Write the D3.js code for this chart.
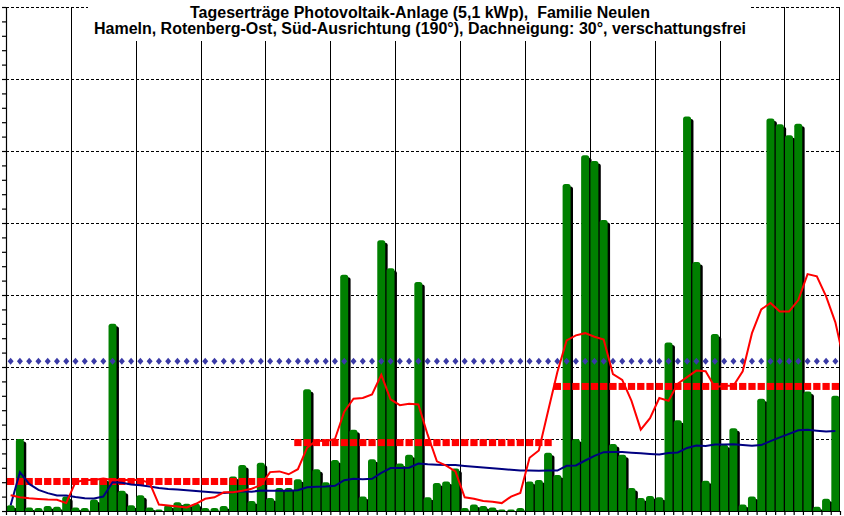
<!DOCTYPE html>
<meta charset="utf-8">
<style>
body { margin: 0; background: #fff; }
</style>
<body>
<script src="https://cdnjs.cloudflare.com/ajax/libs/d3/7.8.5/d3.min.js"></script>
<script>

var width = 844,
    height = 516;

// Tagesertrag in kWh, 1. Januar bis 31. Maerz (90 Tage)
var ertrag = [
  0.4, 5.0, 0.25, 0.2, 0.35, 0.3, 1.0, 0.25, 0.2, 0.8,
  2.25, 13.0, 1.4, 0.4, 1.1, 0.25, 0.1, 0.4, 0.6, 0.5,
  0.5, 0.2, 0.2, 0.35, 2.4, 3.2, 0.7, 3.35, 0.9, 1.6,
  1.6, 2.2, 8.45, 2.9, 2.0, 3.55, 16.4, 5.65, 1.0, 3.6,
  18.8, 16.85, 3.3, 3.9, 15.9, 0.95, 1.95, 2.05, 2.95, 0.2,
  0.45, 0.35, 0.25, 0.1, 0.1, 0.2, 2.05, 2.15, 4.05, 2.5,
  22.7, 5.0, 24.7, 24.3, 20.2, 4.65, 3.9, 1.6, 0.9, 1.05,
  0.95, 11.7, 6.3, 27.4, 17.3, 2.1, 12.3, 4.6, 5.75, 0.45,
  1.0, 7.8, 27.25, 26.85, 26.1, 26.9, 8.3, 0.3, 0.85, 8.0
];

// gleitender Mittelwert (9 Tage), letzter Punkt schon im April
var mittel9 = [
  1.1, 0.95, 0.88, 0.84, 0.8, 0.78, 0.55, 2.0, 2.15, 2.15,
  2.25, 2.15, 2.15, 2.15, 2.15, 1.95, 0.45, 0.38, 0.32, 0.25,
  0.5, 0.85, 0.95, 1.3, 1.3, 1.4, 1.55, 1.8, 2.7, 2.75,
  2.55, 2.9, 4.4, 4.9, 4.85, 5.0, 6.9, 7.8, 7.85, 8.1,
  9.45, 7.75, 7.35, 7.45, 7.4, 5.3, 3.45, 3.15, 2.75, 0.95,
  0.85, 0.7, 0.65, 0.55, 1.0, 1.25, 3.7, 4.2, 6.95, 9.65,
  11.85, 12.2, 12.35, 12.1, 11.9, 9.5, 9.1, 7.65, 5.65, 6.45,
  7.85, 7.65, 8.85, 9.3, 9.75, 9.7, 8.6, 8.7, 8.7, 9.7,
  12.35, 14.0, 14.45, 13.85, 13.85, 14.65, 16.45, 16.3, 14.9, 13.1,
  10.2
];

// Monats-Sollwerte und Jahresmittel (kWh/Tag)
var monate = ["Januar", "Februar", "März"];
var monatsTage = [31, 28, 31];
var monatsSoll = [2.05, 4.75, 8.65];
var jahresMittel = 10.4;

var titel = [
  "Tageserträge Photovoltaik-Anlage (5,1 kWp),  Familie Neulen",
  "Hameln, Rotenberg-Ost, Süd-Ausrichtung (190°), Dachneigung: 30°, verschattungsfrei"
];
var titelBreite = [460, 652];

var x = d3.scaleLinear().domain([0, 90]).range([6, 840]),
    y = d3.scaleLinear().domain([0, 35]).range([511, 7]);
var bw = x(1) - x(0);

var svg = d3.select("body").append("svg")
    .attr("width", width)
    .attr("height", height)
    .style("display", "block");

svg.append("defs").append("clipPath")
    .attr("id", "plot")
  .append("rect")
    .attr("x", x(0)).attr("y", y(35))
    .attr("width", x(90) - x(0)).attr("height", y(0) - y(35));

// Gitter
svg.append("g").selectAll("line")
    .data(d3.range(5, 36, 5))
  .enter().append("line")
    .attr("x1", x(0)).attr("x2", x(90))
    .attr("y1", function(d) { return Math.round(y(d)) + 0.5; })
    .attr("y2", function(d) { return Math.round(y(d)) + 0.5; })
    .attr("stroke", "#000")
    .attr("stroke-dasharray", "3,2");

svg.append("g").selectAll("line")
    .data(d3.range(7, 90, 7))
  .enter().append("line")
    .attr("x1", function(d) { return Math.round(x(d)) + 0.5; })
    .attr("x2", function(d) { return Math.round(x(d)) + 0.5; })
    .attr("y1", y(35)).attr("y2", y(0))
    .attr("stroke", "#000");

svg.append("line")
    .attr("x1", Math.round(x(90)) - 0.5).attr("x2", Math.round(x(90)) - 0.5)
    .attr("y1", y(35)).attr("y2", y(0))
    .attr("stroke", "#000");

// Titel mit weissem Kasten
svg.append("rect")
    .attr("x", 88).attr("y", 0)
    .attr("width", 661).attr("height", 41)
    .attr("fill", "#fff");

svg.append("g").selectAll("text")
    .data(titel)
  .enter().append("text")
    .attr("x", 420)
    .attr("y", function(d, i) { return 17.5 + i * 16.5; })
    .attr("text-anchor", "middle")
    .attr("textLength", function(d, i) { return titelBreite[i]; })
    .attr("lengthAdjust", "spacingAndGlyphs")
    .style("white-space", "pre")
    .style("font-family", "'Liberation Sans', Arial, sans-serif")
    .style("font-weight", "bold")
    .style("font-size", "16px")
    .text(function(d) { return d; });

// Balken mit Schatten
var balken = svg.append("g").attr("clip-path", "url(#plot)");

ertrag.forEach(function(v, i) {
    balken.append("rect")
        .attr("x", x(i) + 3).attr("y", y(v) + 2.5)
        .attr("width", 8).attr("height", y(0) - y(v) + 4)
        .attr("rx", 2.5)
        .attr("fill", "#000");
    balken.append("rect")
        .attr("x", x(i) + 0.6).attr("y", y(v))
        .attr("width", 8).attr("height", y(0) - y(v) + 4)
        .attr("rx", 2.5)
        .attr("fill", "#008000");
});

// Monats-Soll (rote Kaestchen)
var tag = 0;
monatsTage.forEach(function(n, m) {
    for (var i = tag; i < tag + n; i++) {
        svg.append("rect")
            .attr("x", x(i) + 1).attr("y", y(monatsSoll[m]) - 3.5)
            .attr("width", bw - 2).attr("height", 7)
            .attr("fill", "#ff0000");
    }
    tag += n;
});

// Jahresmittel (blaue Rauten)
svg.append("g").selectAll("path")
    .data(d3.range(90))
  .enter().append("path")
    .attr("transform", function(d) { return "translate(" + x(d + 0.5) + "," + y(jahresMittel) + ")"; })
    .attr("d", "M0,-3.5L3,0L0,3.5L-3,0Z")
    .attr("fill", "#3a3aa6");

// kumulierter Mittelwert (blau)
var kum = Array.from(d3.cumsum(ertrag), function(s, i) { return s / (i + 1); });

svg.append("path")
    .datum(kum)
    .attr("fill", "none")
    .attr("stroke", "#000080")
    .attr("stroke-width", 2)
    .attr("d", d3.line()
        .x(function(d, i) { return x(i + 0.5); })
        .y(function(d) { return y(d); }));

// 9-Tage-Mittel (rot)
svg.append("path")
    .datum(mittel9)
    .attr("clip-path", "url(#plot)")
    .attr("fill", "none")
    .attr("stroke", "#ff0000")
    .attr("stroke-width", 2)
    .attr("d", d3.line()
        .x(function(d, i) { return x(i + 0.5); })
        .y(function(d) { return y(d); }));

// Achsen
svg.append("g")
    .attr("transform", "translate(" + x(0) + ",0)")
    .call(d3.axisLeft(y).tickValues(d3.range(0, 36)).tickSize(4).tickFormat(""))
    .call(function(g) { g.selectAll("line,path").attr("stroke-width", 1.2); });

svg.append("g")
    .attr("transform", "translate(0," + y(0) + ")")
    .call(d3.axisBottom(x).tickValues(d3.range(0, 91)).tickSize(4).tickSizeOuter(0).tickFormat(""))
    .call(function(g) { g.selectAll("line,path").attr("stroke-width", 1.2); });

</script>
